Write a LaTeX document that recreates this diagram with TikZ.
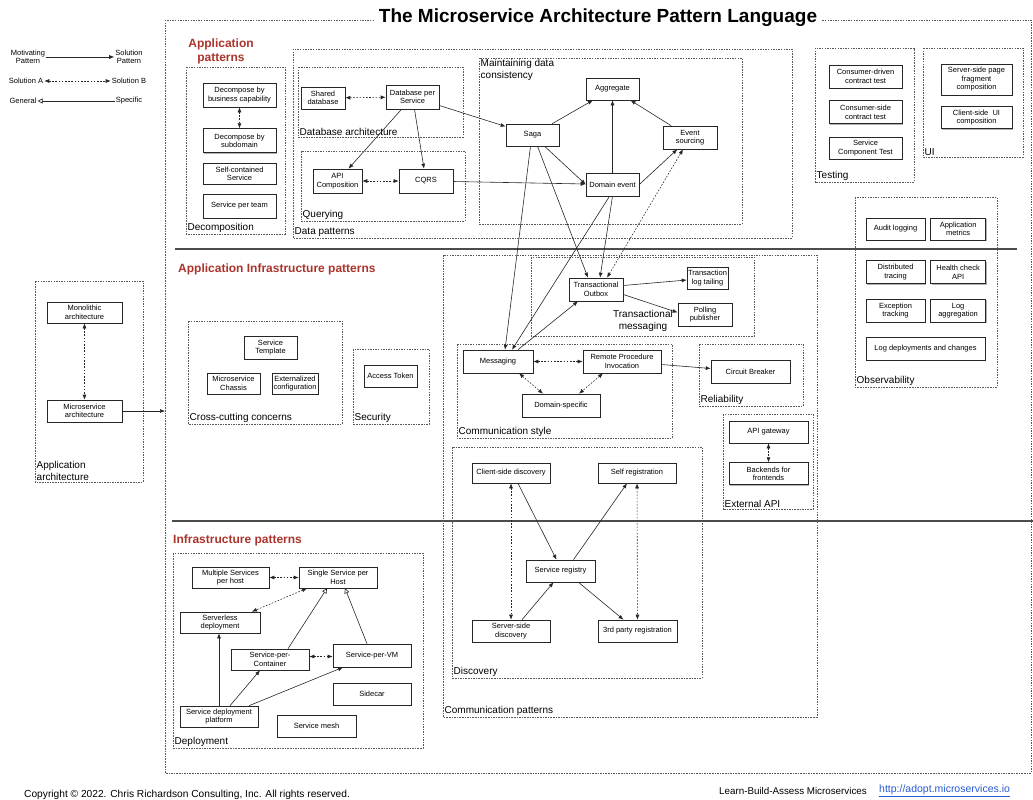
\documentclass[tikz,border=0pt]{standalone}
\usepackage{fontspec}
\setmainfont{Liberation Sans}
\usepackage{tikz}
\usetikzlibrary{positioning, arrows.meta, shadows}
\definecolor{headred}{RGB}{170,52,44}
\definecolor{linkblue}{RGB}{40,90,210}

\begin{document}
\begin{tikzpicture}[x=1pt, y=1pt,
  pbox/.style={draw=black!85, rectangle, fill=white, line width=0.6pt, align=center, inner sep=1pt, minimum height=22pt, font=\fontsize{7.5}{8.5}\selectfont, drop shadow={shadow xshift=0.9pt, shadow yshift=-0.9pt, fill=black!60}},
  grp/.style={draw=black!65, dash pattern=on 1.5pt off 1.1pt, line width=0.55pt},
  grplabel/.style={inner sep=1.5pt, font=\fontsize{10}{12}\selectfont, align=left},
  heading/.style={text=headred, inner sep=0pt, font=\bfseries\fontsize{12}{14}\selectfont},
  legtext/.style={inner sep=1pt, font=\fontsize{7.5}{8.5}\selectfont, align=center},
  uses/.style={-{Latex[length=5pt, width=4pt]}, line width=0.6pt, draw=black!85},
  altof/.style={{Latex[length=5pt, width=4pt]}-{Latex[length=5pt, width=4pt]}, dash pattern=on 1.6pt off 1.6pt, line width=0.6pt, draw=black!85},
  isa/.style={-{Triangle[open, length=5pt, width=5pt]}, line width=0.6pt, draw=black!85}]

\useasboundingbox (0,0) rectangle (1033,-800);

\draw[grp] (165,-20) rectangle (1031,-773);
\node (title) [fill=white, inner xsep=4pt, font=\bfseries\fontsize{19}{22}\selectfont] at (598,-18) {The Microservice Architecture Pattern Language};

\draw[line width=1.1pt, black!70] (175,-249) -- (1017,-249);
\draw[line width=1.1pt, black!70] (172,-521) -- (1033,-521);

\node (lmot) [legtext] at (28,-57) {Motivating\\Pattern};
\node (lsol) [legtext] at (129,-57) {Solution\\Pattern};
\node (lsa) [legtext] at (26,-81) {Solution A};
\node (lsb) [legtext] at (129,-81) {Solution B};
\node (lgen) [legtext] at (23,-101) {General};
\node (lspec) [legtext] at (129,-101) {Specific};
\draw[uses] (lmot) -- (lsol);
\draw[altof] (lsa) -- (lsb);
\draw[isa] (lspec) -- (lgen);

\draw[grp] (35,-281) rectangle (143,-482);
\node (apparchlbl) [grplabel, anchor=south west] at (35,-482) {Application\\architecture};
\node (mono) [pbox, minimum width=75pt, minimum height=21pt] at (84.5,-312.5) {Monolithic\\architecture};
\node (msa) [pbox, minimum width=75pt] at (84.5,-411) {Microservice\\architecture};
\coordinate (appin) at (165,-411);
\draw[altof] (mono) -- (msa);
\draw[uses] (msa) -- (appin);

\node (apphead) [heading, align=center] at (221,-51) {Application\\patterns};
\node (infrahead) [heading, anchor=west] at (178,-269) {Application Infrastructure patterns};
\node (deployhead) [heading, anchor=west] at (173,-540) {Infrastructure patterns};

\draw[grp] (186,-67) rectangle (285,-234);
\node (decomplbl) [grplabel, anchor=south west] at (186,-234) {Decomposition};
\node (dbc) [pbox, minimum width=73pt, minimum height=24pt] at (239.5,-95) {Decompose by\\business capability};
\node (dsub) [pbox, minimum width=73pt, minimum height=24pt, below=21pt of dbc] {Decompose by\\subdomain};
\node (scs) [pbox, minimum width=73pt, minimum height=21pt, below=10pt of dsub] {Self-contained\\Service};
\node (spt) [pbox, minimum width=73pt, minimum height=24pt, below=9pt of scs] {Service per team};
\draw[altof] (dbc) -- (dsub);

\draw[grp] (293,-49) rectangle (792,-238);
\node (datalbl) [grplabel, anchor=south west] at (293,-238) {Data patterns};
\draw[grp] (298,-67) rectangle (463,-137);
\node (dbarchlbl) [grplabel, anchor=south west] at (298,-137) {Database architecture};
\draw[grp] (301,-151) rectangle (465,-221);
\node (querylbl) [grplabel, anchor=south west] at (301,-221) {Querying};
\draw[grp] (479,-58) rectangle (742,-224);
\node (mdclbl) [grplabel, anchor=north west] at (479,-58) {Maintaining data\\consistency};

\node (shdb) [pbox, minimum width=44pt] at (323,-98) {Shared\\database};
\node (dbps) [pbox, minimum width=53pt, minimum height=24pt] at (412.5,-97) {Database per\\Service};
\node (apic) [pbox, minimum width=49pt, minimum height=24pt] at (337.5,-181) {API\\Composition};
\node (cqrs) [pbox, minimum width=54pt, minimum height=24pt] at (426,-181) {CQRS};
\node (aggr) [pbox, minimum width=53pt] at (612.5,-89) {Aggregate};
\node (saga) [pbox, minimum width=53pt] at (532.5,-135) {Saga};
\node (evsrc) [pbox, minimum width=54pt, minimum height=23pt] at (690,-137.5) {Event\\sourcing};
\node (devt) [pbox, minimum width=53pt, minimum height=23pt] at (612.5,-184.5) {Domain event};

\draw[altof] (shdb) -- (dbps);
\draw[altof] (apic) -- (cqrs);
\draw[uses] (dbps) -- (apic);
\draw[uses] (dbps) -- (cqrs);
\draw[uses] (dbps) -- (saga);
\draw[uses] (cqrs) -- (devt);
\draw[uses] (saga) -- (aggr);
\draw[uses] (devt) -- (aggr);
\draw[uses] (evsrc) -- (aggr);
\draw[uses] (saga) -- (devt.west);
\draw[uses] (devt.east) -- (evsrc);

\draw[grp] (815,-48) rectangle (914,-182);
\node (testlbl) [grplabel, anchor=south west] at (815,-182) {Testing};
\node (cdct) [pbox, minimum width=73pt, minimum height=23pt] at (865.5,-76.5) {Consumer-driven\\contract test};
\node (csct) [pbox, minimum width=73pt, minimum height=23pt, below=12pt of cdct] {Consumer-side\\contract test};
\node (sct) [pbox, minimum width=73pt, below=13pt of csct] {Service\\Component Test};

\draw[grp] (923,-48) rectangle (1023,-157);
\node (uilbl) [grplabel, anchor=south west] at (923,-157) {UI};
\node (sspfc) [pbox, minimum width=71pt, minimum height=31pt] at (976.5,-79.5) {Server-side page\\fragment\\composition};
\node (csuic) [pbox, minimum width=71pt, below=11pt of sspfc] {Client-side~~UI\\composition};

\draw[grp] (855,-197) rectangle (997,-387);
\node (obslbl) [grplabel, anchor=south west] at (855,-387) {Observability};
\node (audit) [pbox, minimum width=59pt] at (895.5,-229) {Audit logging};
\node (appmet) [pbox, minimum width=55pt, right=5pt of audit] {Application\\metrics};
\node (dtrace) [pbox, minimum width=59pt, minimum height=23pt, below=20pt of audit] {Distributed\\tracing};
\node (hcapi) [pbox, minimum width=55pt, minimum height=23pt, right=5pt of dtrace] {Health check\\API};
\node (exctr) [pbox, minimum width=59pt, minimum height=23pt, below=15pt of dtrace] {Exception\\tracking};
\node (logagg) [pbox, minimum width=55pt, minimum height=23pt, right=5pt of exctr] {Log\\aggregation};
\node (logdep) [pbox, minimum width=119pt, minimum height=23pt] at (925.5,-348.5) {Log deployments and changes};

\draw[grp] (188,-321) rectangle (342,-424);
\node (ccclbl) [grplabel, anchor=south west] at (188,-424) {Cross-cutting concerns};
\node (stmpl) [pbox, minimum width=53pt, minimum height=23pt] at (270.5,-347.5) {Service\\Template};
\node (mchas) [pbox, minimum width=53pt, minimum height=21pt] at (233.5,-383.5) {Microservice\\Chassis};
\node (extcfg) [pbox, minimum width=46pt, minimum height=21pt] at (295,-383.5) {Externalized\\configuration};

\draw[grp] (353,-349) rectangle (429,-424);
\node (seclbl) [grplabel, anchor=south west] at (353,-424) {Security};
\node (atok) [pbox, minimum width=53pt] at (390.5,-376) {Access Token};

\draw[grp] (443,-255) rectangle (817,-717);
\node (commlbl) [grplabel, anchor=south west] at (443,-717) {Communication patterns};
\draw[grp] (531,-257) rectangle (754,-336);
\node (tmsglbl) [grplabel, align=center] at (643,-321) {Transactional\\messaging};
\node (tobox) [pbox, minimum width=54pt, minimum height=23pt] at (596,-289.5) {Transactional\\Outbox};
\node (tlt) [pbox, minimum width=39pt] at (707.5,-278) {Transaction\\log tailing};
\node (ppub) [pbox, minimum width=54pt, minimum height=23pt] at (705,-314.5) {Polling\\publisher};

\draw[grp] (457,-344) rectangle (672,-438);
\node (stylelbl) [grplabel, anchor=south west] at (457,-438) {Communication style};
\node (msg) [pbox, minimum width=70pt, minimum height=23pt] at (498,-361.5) {Messaging};
\node (rpi) [pbox, minimum width=78pt, minimum height=23pt] at (622,-361.5) {Remote Procedure\\Invocation};
\node (dspec) [pbox, minimum width=78pt, minimum height=23pt] at (561,-405.5) {Domain-specific};

\draw[grp] (699,-344) rectangle (803,-406);
\node (rellbl) [grplabel, anchor=south west] at (699,-406) {Reliability};
\node (cbrk) [pbox, minimum width=79pt, minimum height=23pt] at (750.5,-371.5) {Circuit Breaker};

\draw[grp] (723,-414) rectangle (813,-509);
\node (extlbl) [grplabel, anchor=south west] at (723,-509) {External API};
\node (apigw) [pbox, minimum width=79pt] at (768.5,-432) {API gateway};
\node (bff) [pbox, minimum width=79pt, below=19pt of apigw] {Backends for\\frontends};

\draw[grp] (452,-447) rectangle (702,-678);
\node (disclbl) [grplabel, anchor=south west] at (452,-678) {Discovery};
\node (csd) [pbox, minimum width=78pt, minimum height=20pt] at (511,-473) {Client-side discovery};
\node (selfreg) [pbox, minimum width=78pt, minimum height=20pt] at (637,-473) {Self registration};
\node (sreg) [pbox, minimum width=69pt] at (560.5,-571) {Service registry};
\node (ssd) [pbox, minimum width=78pt] at (511,-631) {Server-side\\discovery};
\node (tpr) [pbox, minimum width=79pt] at (637.5,-631) {3rd party registration};

\draw[uses] ([xshift=-2pt]saga.south) -- ([xshift=7pt]msg.north);
\draw[uses] ([xshift=5pt]saga.south) -- ([xshift=-8pt]tobox.north);
\draw[uses] ([xshift=-3pt]devt.south) -- ([xshift=14pt]msg.north);
\draw[uses] (devt.south) -- ([xshift=4pt]tobox.north);
\draw[altof] ([xshift=11pt]tobox.north) -- ([xshift=-7pt]evsrc.south);
\draw[uses] ([xshift=20pt]msg.north) -- ([xshift=-18pt]tobox.south);
\draw[uses] ([yshift=4pt]tobox.east) -- ([yshift=-2pt]tlt.west);
\draw[uses] ([yshift=-5pt]tobox.east) -- ([yshift=2pt]ppub.west);
\draw[altof] (msg) -- (rpi);
\draw[altof] ([xshift=21pt]msg.south) -- ([xshift=-18pt]dspec.north);
\draw[altof] ([xshift=-19pt]rpi.south) -- ([xshift=18pt]dspec.north);
\draw[uses] ([yshift=-3pt]rpi.east) -- ([yshift=3pt]cbrk.west);
\draw[altof] (apigw) -- (bff);
\draw[uses] ([xshift=7pt]csd.south) -- ([xshift=-4pt]sreg.north);
\draw[uses] ([xshift=13pt]sreg.north) -- ([xshift=-10pt]selfreg.south);
\draw[uses] ([xshift=11pt]ssd.north) -- ([xshift=-7pt]sreg.south);
\draw[uses] ([xshift=18pt]sreg.south) -- ([xshift=-14pt]tpr.north);
\draw[altof] (csd) -- (ssd);
\draw[altof] (selfreg) -- (tpr);

\draw[grp] (173,-553) rectangle (423,-748);
\node (deploylbl) [grplabel, anchor=south west] at (173,-748) {Deployment};
\node (msph) [pbox, minimum width=77pt, minimum height=21pt] at (230.5,-577.5) {Multiple Services\\per host};
\node (ssph) [pbox, minimum width=78pt, minimum height=21pt] at (338,-577.5) {Single Service per\\Host};
\node (srvless) [pbox, minimum width=80pt, minimum height=21pt] at (220,-622.5) {Serverless\\deployment};
\node (spc) [pbox, minimum width=78pt, minimum height=21pt] at (270,-659.5) {Service-per-\\Container};
\node (spvm) [pbox, minimum width=78pt, minimum height=23pt] at (372,-655.5) {Service-per-VM};
\node (sidecar) [pbox, minimum width=78pt] at (372,-694) {Sidecar};
\node (sdp) [pbox, minimum width=78pt, minimum height=21pt] at (219,-716.5) {Service deployment\\platform};
\node (smesh) [pbox, minimum width=79pt] at (316.5,-726) {Service mesh};

\draw[altof] (msph) -- (ssph);
\draw[altof] ([xshift=-31pt]ssph.south) -- ([xshift=32pt]srvless.north);
\draw[isa] ([xshift=18pt]spc.north) -- ([xshift=-11pt]ssph.south);
\draw[isa] ([xshift=-5pt]spvm.north) -- ([xshift=7pt]ssph.south);
\draw[altof] ([yshift=3pt]spc.east) -- ([yshift=-1pt]spvm.west);
\draw[uses] (sdp.north) -- (sdp.north |- srvless.south);
\draw[uses] ([xshift=11pt]sdp.north) -- ([xshift=-10pt]spc.south);
\draw[uses] ([xshift=30pt]sdp.north) -- ([xshift=-29pt]spvm.south);

\node (copy) [anchor=west, inner sep=0pt, font=\fontsize{10.2}{11}\selectfont] at (24,-795) {Copyright \textcopyright{} 2022. Chris Richardson Consulting, Inc. All rights reserved.};
\node (learn) [anchor=west, inner sep=0pt, font=\fontsize{9.8}{11}\selectfont] at (719,-791) {Learn-Build-Assess Microservices};
\node (link) [anchor=west, inner sep=0pt, text=linkblue, font=\fontsize{10.5}{11}\selectfont] at (879,-791) {\underline{http://adopt.microservices.io}};
\end{tikzpicture}
\end{document}
